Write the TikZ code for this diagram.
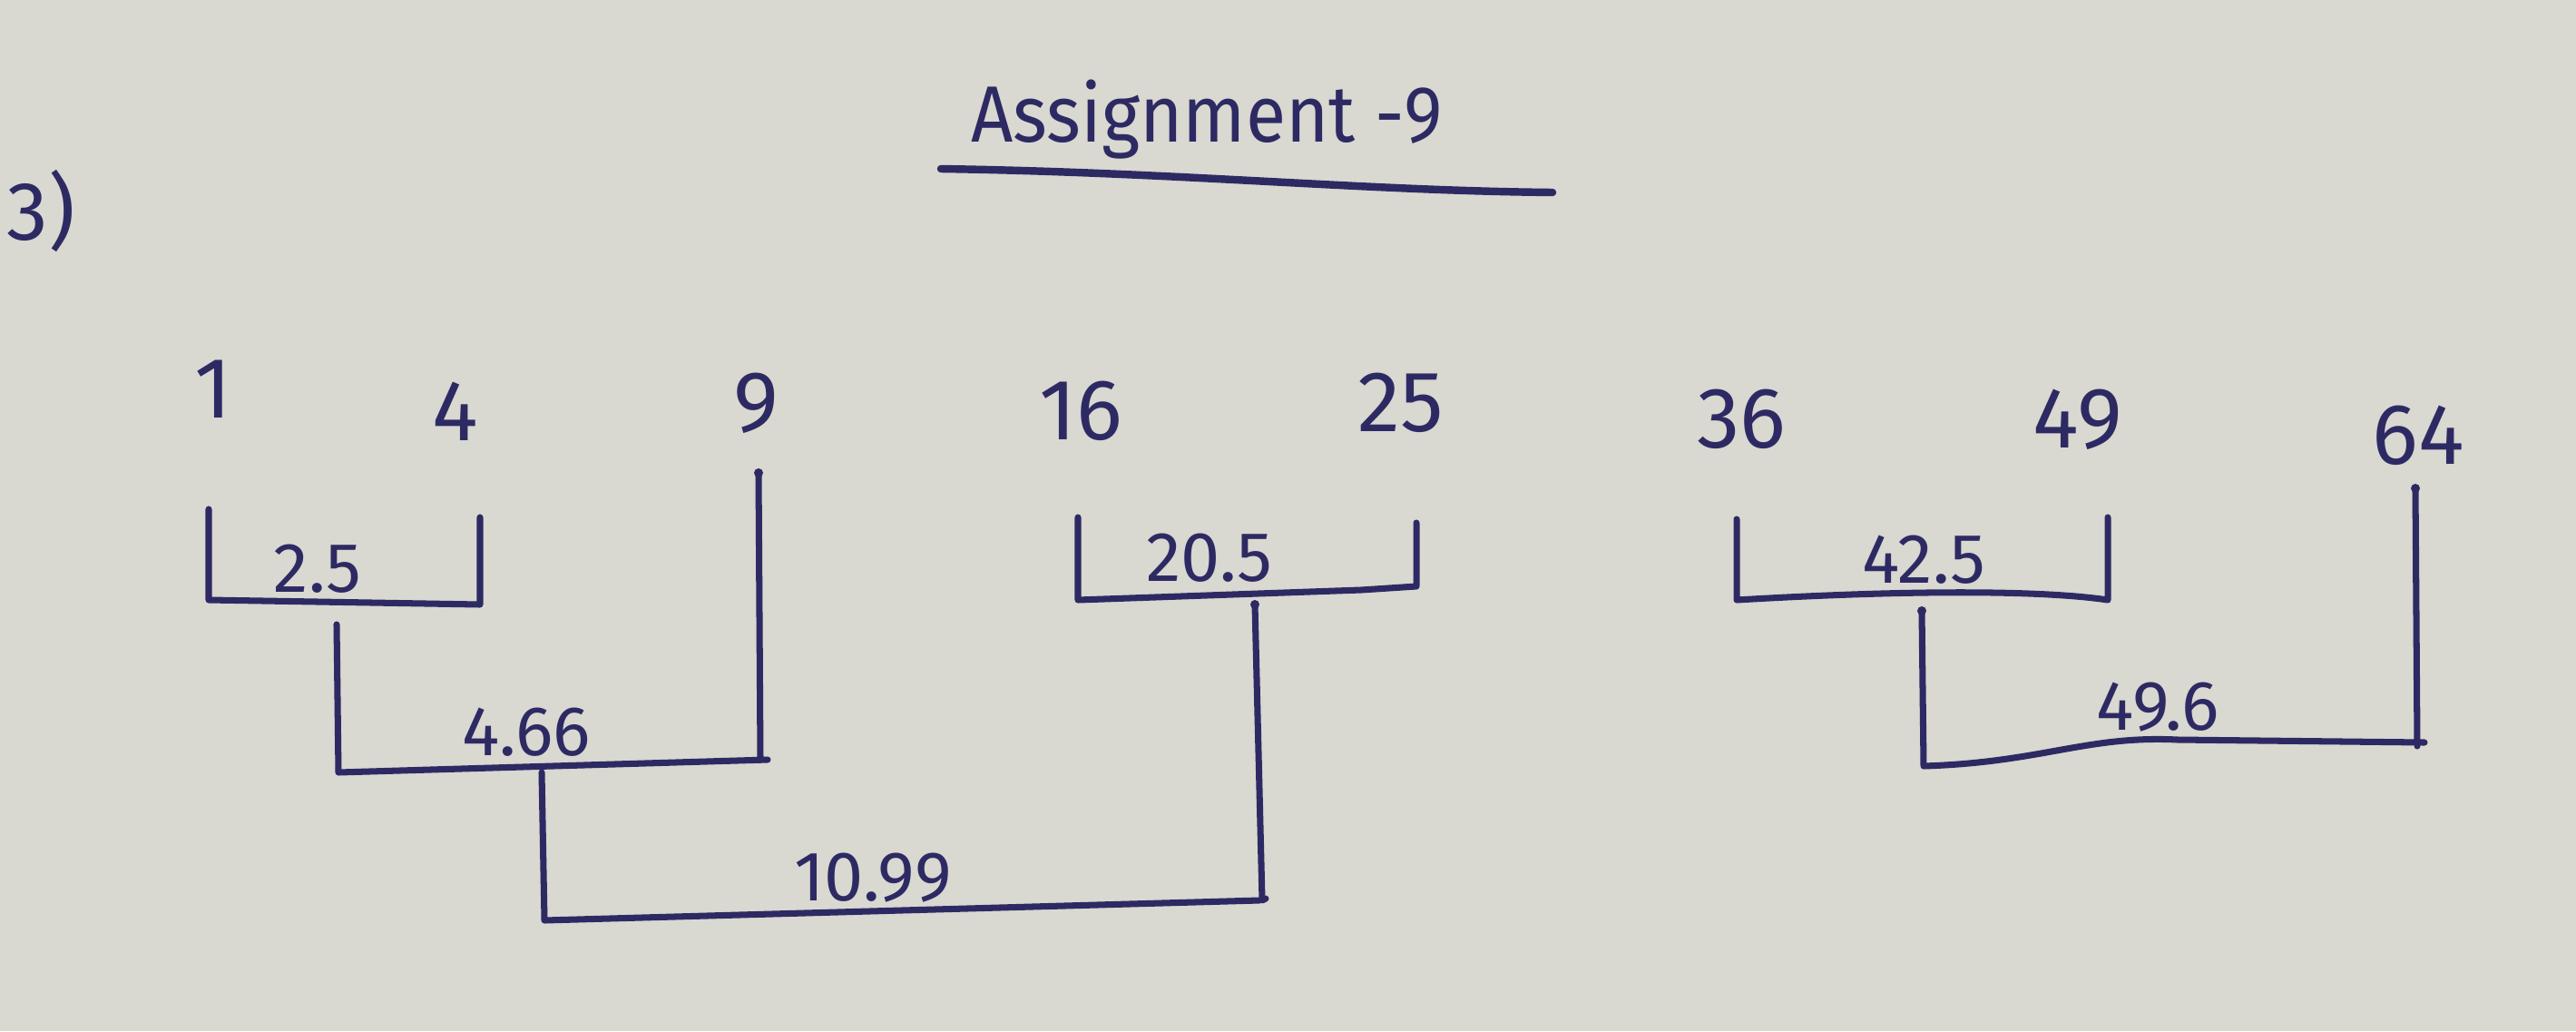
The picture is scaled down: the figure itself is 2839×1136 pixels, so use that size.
\documentclass[tikz,border=0pt]{standalone}
\usepackage{fontspec}
\setmainfont{Fira Sans}
\definecolor{ink}{HTML}{2D2A63}
\definecolor{paper}{HTML}{D9D8D1}
\begin{document}
\begin{tikzpicture}[x=0.01cm,y=-0.01cm,
  leaf/.style={text=ink,font=\fontsize{27}{30}\selectfont,inner sep=0pt},
  hgt/.style={text=ink,font=\fontsize{22}{26}\selectfont,inner sep=0pt,anchor=base},
  link/.style={draw=ink,line width=2pt,line cap=round,line join=round}]
\fill[paper] (0,0) rectangle (2839,1136);
\useasboundingbox (0,0) rectangle (2839,1136);
% heading
\node[text=ink,font=\fontsize{26}{30}\selectfont,inner sep=0pt] (qnum) at (45,232) {3)};
\node[text=ink,font=\fontsize{25}{28}\selectfont,inner sep=0pt,xscale=0.92] (title) at (1330,132) {Assignment -9};
\coordinate (ul1) at (1037,186);
\coordinate (ul2) at (1711,212);
\draw[link,line width=2.4pt] (ul1) .. controls (1300,190) and (1500,210) .. (ul2);
% leaves
\node[leaf] (n1) at (235,429) {1};
\node[leaf] (n4) at (502,453) {4};
\node[leaf] (n9) at (833,444) {9};
\node[leaf] (n16) at (1191,453) {16};
\node[leaf] (n25) at (1544,444) {25};
\node[leaf] (n36) at (1919,462) {36};
\node[leaf] (n49) at (2290,462) {49};
\node[leaf] (n64) at (2665,480) {64};
% bracket 2.5
\coordinate (a1) at (230,561); \coordinate (a2) at (230,661);
\coordinate (a3) at (529,666); \coordinate (a4) at (529,570);
\draw[link] (a1) -- (a2) -- (a3) -- (a4);
\node[hgt] (h25) at (350,652) {2.5};
% bracket 4.66
\coordinate (b1) at (371,688); \coordinate (b2) at (373,851);
\coordinate (b3) at (846,837); \coordinate (b4) at (836,521);
\draw[link] (b1) -- (b2) -- (b3);
\draw[link] (b4) -- (838,837);
\node[hgt] (h466) at (580,832) {4.66};
% bracket 10.99
\coordinate (c1) at (597,851); \coordinate (c2) at (600,1014);
\coordinate (c3) at (1395,990); \coordinate (c4) at (1383,666);
\draw[link] (c1) -- (c2) -- (1388,992);
\draw[link] (c4) -- (1391,992) -- (c3);
\node[hgt] (h1099) at (962,992) {10.99};
% bracket 20.5
\coordinate (d1) at (1188,570); \coordinate (d2) at (1188,661);
\coordinate (d3) at (1561,646); \coordinate (d4) at (1561,576);
\draw[link] (d1) -- (d2) -- (1500,650) -- (d3) -- (d4);
\node[hgt] (h205) at (1333,640) {20.5};
% bracket 42.5
\coordinate (e1) at (1914,572); \coordinate (e2) at (1914,661);
\coordinate (e3) at (2323,661); \coordinate (e4) at (2323,570);
\draw[link] (e1) -- (e2) .. controls (2100,650) and (2250,650) .. (e3) -- (e4);
\node[hgt] (h425) at (2120,642) {42.5};
% bracket 49.6
\coordinate (f1) at (2118,673); \coordinate (f2) at (2120,844);
\coordinate (f3) at (2672,818); \coordinate (f4) at (2662,538);
\draw[link] (f1) -- (f2) .. controls (2250,840) and (2300,810) .. (2400,815) -- (f3);
\draw[link] (f4) -- (2664,822);
\node[hgt] (h496) at (2378,804) {49.6};
% pen dots
\fill[ink] (b4) circle (5);
\fill[ink] (c4) circle (5);
\fill[ink] (f1) circle (5);
\fill[ink] (f4) circle (5);
\end{tikzpicture}
\end{document}
